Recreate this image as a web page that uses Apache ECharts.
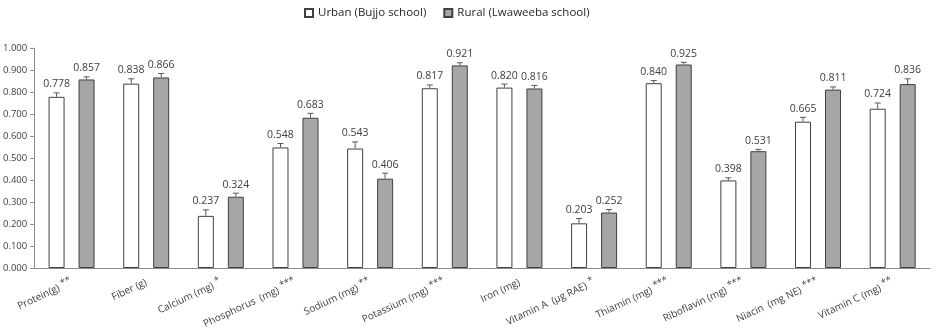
<!DOCTYPE html>
<html><head><meta charset="utf-8">
<script src="https://cdn.jsdelivr.net/npm/echarts@6/dist/echarts.min.js"></script>
<style>html,body{margin:0;padding:0;background:#fff}#c{width:942px;height:332px}</style>
</head><body><div id="c"></div>
<script>
const categories = ['Protein(g)','Fiber (g)','Calcium (mg)','Phosphorus  (mg)','Sodium (mg)','Potassium (mg)','Iron (mg)','Vitamin A  (µg RAE)','Thiamin (mg)','Riboflavin (mg)','Niacin  (mg NE)','Vitamin C (mg)'];
const stars = ['**','','*','***','**','***','','*','***','***','***','**'];
const urban = [0.778,0.838,0.237,0.548,0.543,0.817,0.820,0.203,0.840,0.398,0.665,0.724];
const rural = [0.857,0.866,0.324,0.683,0.406,0.921,0.816,0.252,0.925,0.531,0.811,0.836];
const urbanErr = [0.018,0.022,0.027,0.018,0.030,0.015,0.016,0.022,0.012,0.012,0.020,0.026];
const ruralErr = [0.012,0.018,0.016,0.020,0.025,0.012,0.014,0.014,0.010,0.008,0.012,0.024];
const yTicks = [0,0.1,0.2,0.3,0.4,0.5,0.6,0.7,0.8,0.9,1.0];

const FONT = '"Open Sans", sans-serif';
const TXT = '#404040';
const BAR_W = 16, OFFSET = 15;

function errSeries(vals, errs, dx) {
  return {
    type: 'custom',
    silent: true,
    z: 5,
    data: vals.map((v, i) => [i, v, errs[i]]),
    renderItem: function (params, api) {
      const i = api.value(0), v = api.value(1), e = api.value(2);
      const p = api.coord([i, v]);
      const t = api.coord([i, v + e]);
      const x = p[0] + dx;
      return {
        type: 'group',
        children: [
          { type: 'line', shape: { x1: x, y1: p[1], x2: x, y2: t[1] }, style: { stroke: '#595959', lineWidth: 1 } },
          { type: 'line', shape: { x1: x - 3, y1: t[1], x2: x + 3, y2: t[1] }, style: { stroke: '#595959', lineWidth: 1 } },
          { type: 'text', x: x, y: t[1] - 3, style: { text: v.toFixed(3), fill: TXT, font: '10.5px ' + FONT, align: 'center', verticalAlign: 'bottom' } }
        ]
      };
    }
  };
}

const chart = echarts.init(document.getElementById('c'));
chart.setOption({
  animation: false,
  textStyle: { fontFamily: FONT },
  legend: {
    top: 2, left: 299,
    itemWidth: 8, itemHeight: 8, itemGap: 17,
    textStyle: { fontSize: 11.5, color: '#262626', fontFamily: FONT },
    data: [
      { name: 'Urban (Bujjo school)', icon: 'rect' },
      { name: 'Rural (Lwaweeba school)', icon: 'rect' }
    ]
  },
  grid: { left: 32, right: 12, top: 48, bottom: 64 },
  xAxis: {
    type: 'category',
    data: categories,
    axisLine: { lineStyle: { color: '#8c8c8c' } },
    axisTick: { show: false },
    axisLabel: {
      interval: 0, rotate: 25, margin: 14,
      formatter: function (v, i) { return stars[i] ? '{a|' + v + '} {s|' + stars[i] + '}' : '{a|' + v + '}'; },
      rich: {
        a: { fontSize: 10, color: TXT, fontFamily: FONT },
        s: { fontSize: 9.5, color: TXT, fontFamily: FONT, padding: [0, 0, 6, 0] }
      }
    }
  },
  yAxis: {
    type: 'value', min: 0, max: 1, interval: 0.1,
    splitLine: { show: false },
    axisLine: { show: true, lineStyle: { color: '#8c8c8c' } },
    axisTick: { show: true, length: 4, lineStyle: { color: '#8c8c8c' } },
    axisLabel: { formatter: v => v.toFixed(3), fontSize: 9.5, color: TXT, margin: 7, fontFamily: FONT }
  },
  series: [
    { name: 'Urban (Bujjo school)', type: 'bar', data: urban, barWidth: BAR_W, barGap: '87.5%',
      itemStyle: { color: '#ffffff', borderColor: '#404040', borderWidth: 1 } },
    { name: 'Rural (Lwaweeba school)', type: 'bar', data: rural, barWidth: BAR_W,
      itemStyle: { color: '#a6a6a6', borderColor: '#404040', borderWidth: 1 } },
    errSeries(urban, urbanErr, -OFFSET),
    errSeries(rural, ruralErr, OFFSET)
  ]
});
</script></body></html>
